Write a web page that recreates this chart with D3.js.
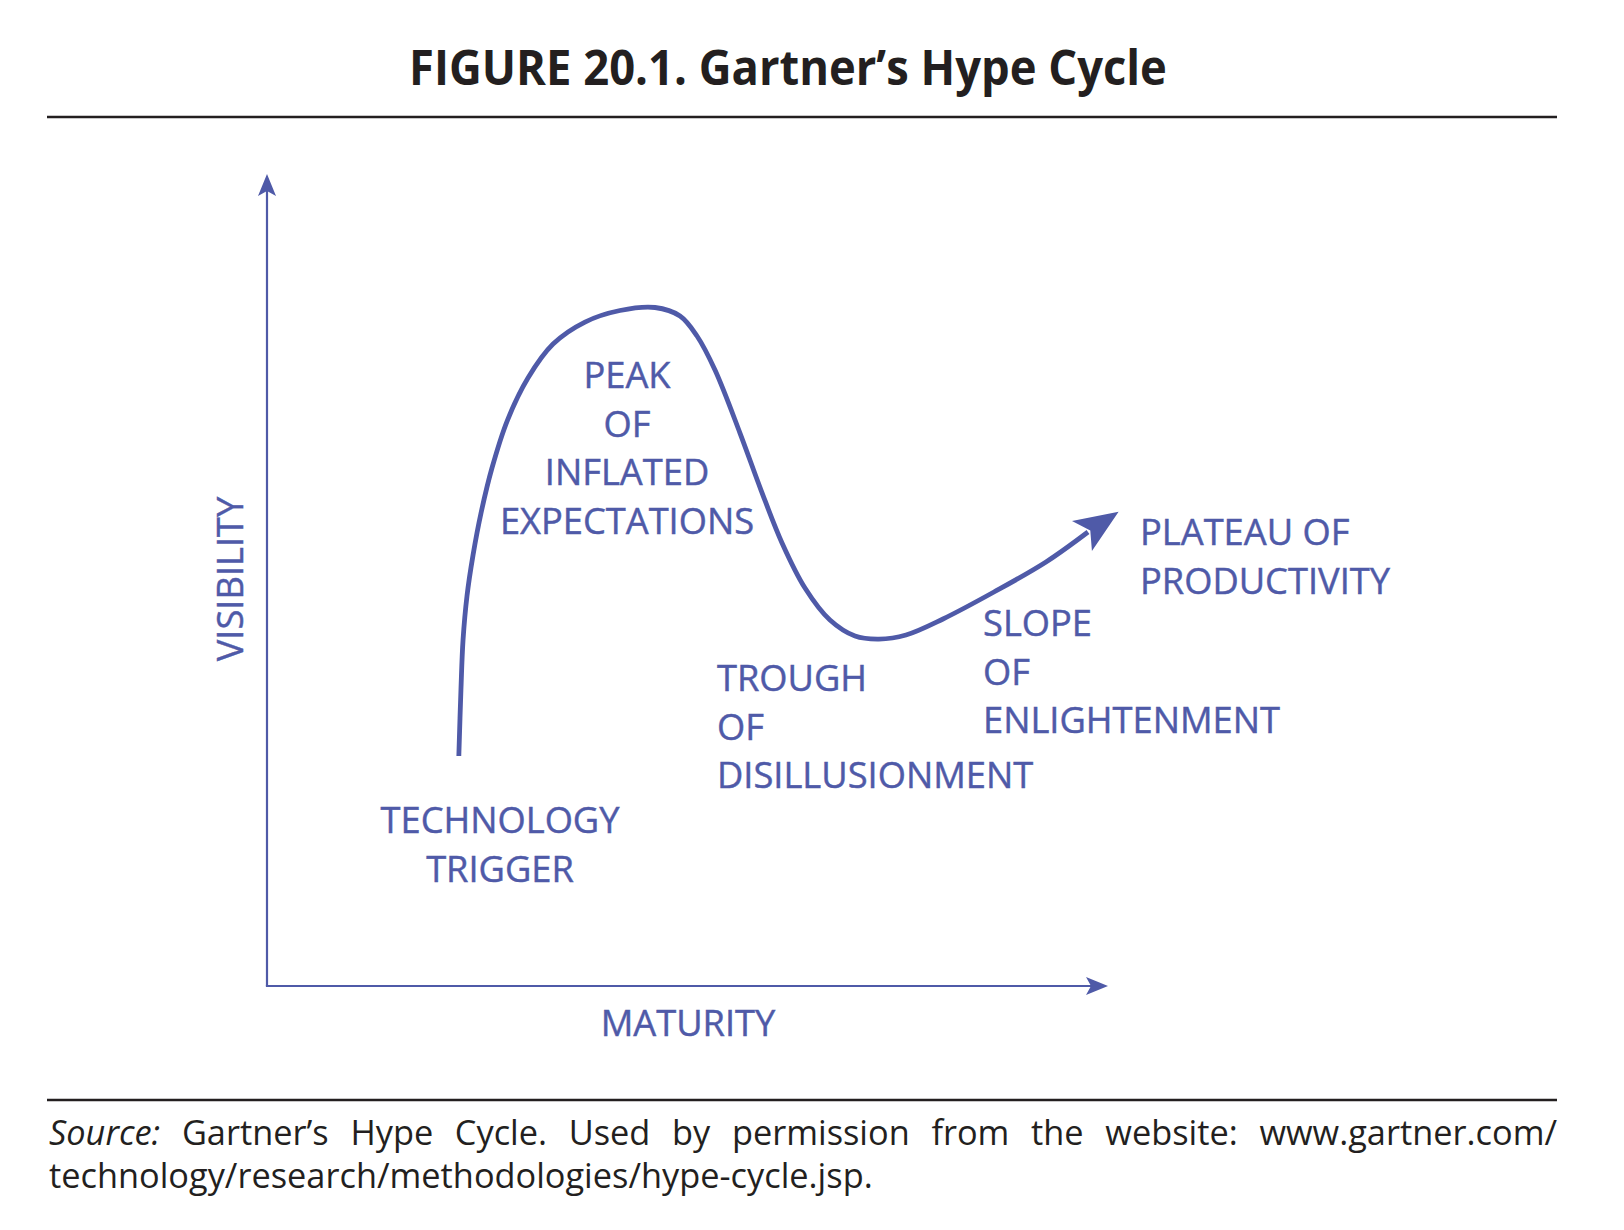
<!DOCTYPE html>
<html>
<head>
<meta charset="utf-8">
<script src="https://cdn.jsdelivr.net/npm/d3@7"></script>
<style>
  html, body { margin: 0; padding: 0; background: #ffffff; }
  svg { display: block; }
</style>
</head>
<body>
<svg id="chart" width="1624" height="1230"></svg>
<script>
// ---------------- DATA ----------------
const titleText = "FIGURE 20.1. Gartner\u2019s Hype Cycle";
const xAxisLabel = "MATURITY";
const yAxisLabel = "VISIBILITY";
// hype curve: maturity (0-100) and visibility (0-100)
const maturity   = [22.81, 23.06, 23.31, 23.78, 24.50, 25.45, 26.75, 28.60, 31.03, 34.01, 37.81, 41.97, 46.14, 49.11, 51.13, 53.27, 56.24, 58.74, 61.24, 63.97, 66.94, 69.92, 72.77, 75.98, 80.38, 86.44, 92.63, 97.62, 101.26];
const visibility = [28.33, 36.45, 42.61, 48.03, 53.08, 58.25, 63.79, 69.70, 74.88, 79.06, 81.77, 83.19, 83.56, 82.51, 80.05, 75.86, 68.10, 61.08, 54.56, 49.01, 45.07, 43.10, 42.73, 43.23, 45.20, 48.52, 52.22, 55.91, 58.42];
const phaseLines = [
  ["TECHNOLOGY", "TRIGGER"],
  ["PEAK", "OF", "INFLATED", "EXPECTATIONS"],
  ["TROUGH", "OF", "DISILLUSIONMENT"],
  ["SLOPE", "OF", "ENLIGHTENMENT"],
  ["PLATEAU OF", "PRODUCTIVITY"]
];
const sourceLabel = "Source:";
const sourceLine1 = "Gartner\u2019s Hype Cycle. Used by permission from the website: www.gartner.com/";
const sourceLine2 = "technology/research/methodologies/hype-cycle.jsp.";

// ---------------- DRAWING ----------------
const BLUE = "#4f5aa8";
const INK = "#231f20";
const svg = d3.select("#chart");

const x = d3.scaleLinear().domain([0, 100]).range([267, 1108]);
const y = d3.scaleLinear().domain([0, 100]).range([986, 174]);

function fitText(sel, target) {
  const w = sel.node().getComputedTextLength();
  return target / w;
}

// Title
const title = svg.append("text")
  .attr("font-family", "'Open Sans', 'Noto Sans', sans-serif")
  .attr("font-weight", 700)
  .attr("font-size", 49)
  .attr("fill", INK)
  .attr("text-anchor", "middle")
  .text(titleText);
const tScale = fitText(title, 758);
title.attr("transform", `translate(788,85) scale(${tScale},1)`);

// Rules
svg.append("line").attr("x1", 47).attr("x2", 1557).attr("y1", 117).attr("y2", 117)
  .attr("stroke", INK).attr("stroke-width", 2.5);
svg.append("line").attr("x1", 47).attr("x2", 1557).attr("y1", 1100).attr("y2", 1100)
  .attr("stroke", INK).attr("stroke-width", 2.5);

function arrowPath(len, half, notch) {
  return `M0,0 L${-len},${-half} L${-len + notch},0 L${-len},${half} Z`;
}

// Axes
const axes = svg.append("g");
axes.append("line")
  .attr("x1", x(0)).attr("y1", y(0)).attr("x2", x(0)).attr("y2", y(100) + 14)
  .attr("stroke", BLUE).attr("stroke-width", 2.2);
axes.append("path").attr("d", arrowPath(22, 9, 5))
  .attr("transform", `translate(${x(0)},${y(100)}) rotate(-90)`)
  .attr("fill", BLUE);
axes.append("line")
  .attr("x1", x(0) - 1.1).attr("y1", y(0)).attr("x2", x(100) - 14).attr("y2", y(0))
  .attr("stroke", BLUE).attr("stroke-width", 2.2);
axes.append("path").attr("d", arrowPath(22, 9, 5))
  .attr("transform", `translate(${x(100)},${y(0)})`)
  .attr("fill", BLUE);

// Axis labels
const labelFont = "'Open Sans', 'Noto Sans', sans-serif";
const LSCALE = 0.98;
function blueText(sel) {
  return sel.attr("font-family", labelFont).attr("font-size", 37).attr("fill", BLUE)
    .attr("stroke", BLUE).attr("stroke-width", 0.45);
}
blueText(svg.append("text"))
  .attr("text-anchor", "middle")
  .attr("transform", `translate(688,1036) scale(${LSCALE},1)`)
  .text(xAxisLabel);
blueText(svg.append("text"))
  .attr("text-anchor", "middle")
  .attr("transform", `translate(243,579) rotate(-90) scale(${LSCALE},1)`)
  .text(yAxisLabel);

// Hype curve
const pts = maturity.map((m, i) => [m, visibility[i]]);
const body = pts.slice(0, pts.length - 1);
const line = d3.line().x(d => x(d[0])).y(d => y(d[1])).curve(d3.curveCatmullRom.alpha(0.5));
svg.append("path")
  .attr("d", line(body))
  .attr("fill", "none")
  .attr("stroke", BLUE)
  .attr("stroke-width", 4.8)
  .attr("stroke-linecap", "butt");
const tip = pts[pts.length - 1], prev = pts[pts.length - 2];
const ang = Math.atan2(y(tip[1]) - y(prev[1]), x(tip[0]) - x(prev[0])) * 180 / Math.PI;
svg.append("path")
  .attr("d", arrowPath(44, 18, 10))
  .attr("transform", `translate(${x(tip[0])},${y(tip[1])}) rotate(${ang})`)
  .attr("fill", BLUE);

// Phase labels (annotation layout)
const phaseLayout = [
  { x: 500, y: 833, anchor: "middle" },
  { x: 627, y: 388, anchor: "middle" },
  { x: 717, y: 691, anchor: "start" },
  { x: 983, y: 636, anchor: "start" },
  { x: 1140, y: 545, anchor: "start" }
];
const LH = 48.5;
phaseLines.forEach((lines, i) => {
  const L = phaseLayout[i];
  lines.forEach((t, j) => {
    blueText(svg.append("text"))
      .attr("text-anchor", L.anchor)
      .attr("transform", `translate(${L.x},${L.y + j * LH}) scale(${LSCALE},1)`)
      .text(t);
  });
});

// Source note
const srcFont = "'Open Sans', 'Noto Sans', sans-serif";
const SFS = 35;
const l2 = svg.append("text")
  .attr("font-family", srcFont).attr("font-size", SFS).attr("fill", INK)
  .text(sourceLine2);
const sScale = fitText(l2, 824);
l2.attr("transform", `translate(49,1188) scale(${sScale},1)`);

const g1 = svg.append("g").attr("transform", `translate(49,1145) scale(${sScale},1)`);
const words = [{ t: sourceLabel, italic: true }].concat(sourceLine1.split(" ").map(t => ({ t, italic: false })));
const nodes = words.map(w => g1.append("text")
  .attr("font-family", srcFont).attr("font-size", SFS).attr("fill", INK)
  .attr("font-style", w.italic ? "italic" : "normal")
  .text(w.t));
const widths = nodes.map(n => n.node().getComputedTextLength());
const totalW = (1557 - 49) / sScale;
const gap = (totalW - d3.sum(widths)) / (nodes.length - 1);
let cx = 0;
nodes.forEach((n, i) => { n.attr("x", cx); cx += widths[i] + gap; });
</script>
</body>
</html>
